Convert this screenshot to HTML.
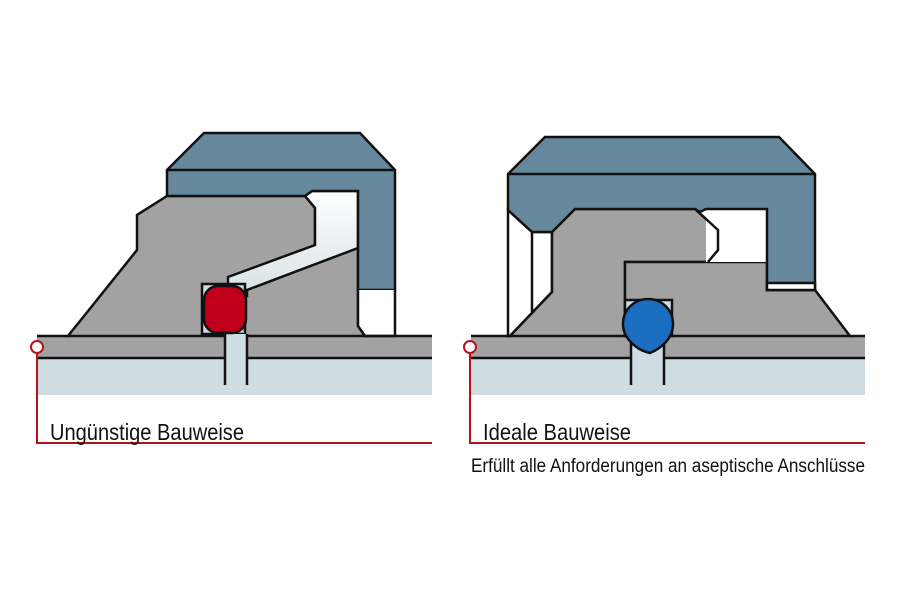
<!DOCTYPE html>
<html><head><meta charset="utf-8"><style>
html,body{margin:0;padding:0;background:#fff;width:900px;height:600px;overflow:hidden}
svg{display:block}
text{font-family:"Liberation Sans Narrow","Liberation Sans",sans-serif;fill:#111}
</style></head><body>
<svg width="900" height="600" viewBox="0 0 900 600" xmlns="http://www.w3.org/2000/svg">
<defs>
<linearGradient id="pale" x1="0" y1="0" x2="0" y2="1"><stop offset="0" stop-color="#ffffff"/><stop offset="1" stop-color="#d6e2e6"/></linearGradient>
</defs>
<g stroke="#111" stroke-width="2.5" stroke-linejoin="miter">
<!-- LEFT -->
<rect x="37" y="358" width="395" height="37" fill="#cfdde2" stroke="none"/>
<rect x="37" y="336" width="395" height="22" fill="#a2a2a2" stroke="none"/>
<polygon points="68,336 137,250 137,215 167,196 305,196 315,208 315,245 358,245 358,326 365,336" fill="#a2a2a2"/>
<polygon points="228,277 315,245 315,208 305,196 312,191 358,191 358,248 247,290 247,296 228,296" fill="url(#pale)"/>
<rect x="202" y="284" width="43" height="50" fill="#cfdde2"/>
<rect x="225" y="334" width="22" height="51" fill="#cfdde2" stroke="none"/>
<line x1="225" y1="334" x2="225" y2="385"/><line x1="247" y1="334" x2="247" y2="385"/>
<rect x="204" y="286" width="42" height="47" rx="14" fill="#c0001a"/>
<polygon points="167,196 167,170 204,133 360,133 395,170 395,290 358,290 358,191 312,191 305,196" fill="#66889c"/>
<line x1="167" y1="170" x2="395" y2="170"/>
<polyline points="358,290 358,326 365,336 395,336 395,290" fill="#fff"/>
<line x1="37" y1="336" x2="68" y2="336"/><line x1="365" y1="336" x2="432" y2="336"/>
<line x1="37" y1="358" x2="225" y2="358"/><line x1="247" y1="358" x2="432" y2="358"/>
<!-- RIGHT -->
<rect x="471" y="358" width="394" height="37" fill="#cfdde2" stroke="none"/>
<rect x="471" y="336" width="394" height="22" fill="#a2a2a2" stroke="none"/>
<polygon points="508,336 508,210 532,232 552,232 552,292 510,336" fill="#fff"/>
<line x1="532" y1="232" x2="532" y2="312"/>
<polygon points="510,336 552,292 552,232 575,209 695,209 718,230 718,250 708,262 625,262 625,336" fill="#a2a2a2"/>
<polygon points="625,262 767,262 767,290 815,290 850,336 625,336" fill="#a2a2a2"/>
<rect x="706" y="209" width="61" height="53" fill="#fff" stroke="none"/>
<polyline points="695,209 718,230 718,250 708,262" fill="none"/>
<rect x="625" y="300" width="47" height="36" fill="#cfdde2"/>
<rect x="631" y="336" width="33" height="49" fill="#cfdde2" stroke="none"/>
<line x1="631" y1="336" x2="631" y2="385"/><line x1="664" y1="336" x2="664" y2="385"/>
<path d="M648,299 C662,299 673,310 673,324 C673,338 662,348 650,353 C636,350 623,338 623,324 C623,310 634,299 648,299 Z" fill="#1c6fc0"/>
<polygon points="508,210 508,174 545,137 779,137 815,174 815,290 767,290 767,283 767,209 706,209 700,212 695,209 575,209 552,232 532,232" fill="#66889c"/>
<line x1="508" y1="174" x2="815" y2="174"/>
<rect x="767" y="283" width="48" height="7" fill="#fff"/>
<line x1="471" y1="336" x2="510" y2="336"/><line x1="850" y1="336" x2="865" y2="336"/>
<line x1="471" y1="358" x2="631" y2="358"/><line x1="664" y1="358" x2="865" y2="358"/>
</g>
<!-- red markers -->
<g stroke="#b5121b" stroke-width="2" fill="none">
<polyline points="37,353 37,443 432,443"/>
<polyline points="470,353 470,443 865,443"/>
<circle cx="37" cy="347" r="6" fill="#fff"/>
<circle cx="470" cy="347" r="6" fill="#fff"/>
</g>
<text x="50" y="440" font-size="23" textLength="194" lengthAdjust="spacingAndGlyphs">Ungünstige Bauweise</text>
<text x="483" y="440" font-size="23" textLength="148" lengthAdjust="spacingAndGlyphs">Ideale Bauweise</text>
<text x="471" y="472" font-size="19" font-family="Liberation Sans Narrow, sans-serif" textLength="394" lengthAdjust="spacingAndGlyphs">Erfüllt alle Anforderungen an aseptische Anschlüsse</text>
</svg>
</body></html>
